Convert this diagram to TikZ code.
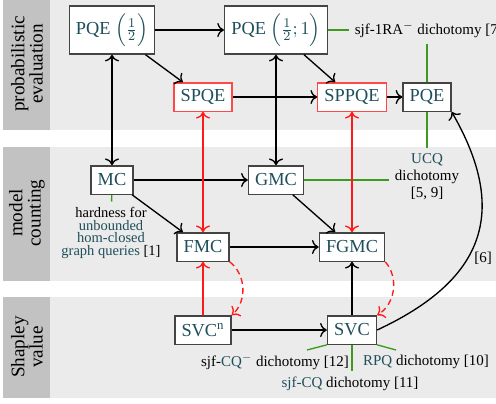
\documentclass[tikz,border=0pt]{standalone}
\usepackage{amsmath}
\usepackage{fontspec}
\setmainfont{Liberation Serif}
\usetikzlibrary{arrows.meta}
\definecolor{bandgray}{HTML}{EBEBEB}
\definecolor{tabgray}{HTML}{C2C2C2}
\definecolor{namecol}{HTML}{1E4F5B}
\definecolor{linkgreen}{HTML}{3D9A1F}
\definecolor{hardred}{HTML}{FF1A1A}
\definecolor{boxgray}{HTML}{444444}
\newcommand{\pname}[1]{\textcolor{namecol}{#1}}
\tikzset{
    every node/.style={align=center,},
    problem/.style={draw=boxgray,line width=0.8pt,fill=white,text=namecol,
        font=\fontsize{11}{13}\selectfont,inner xsep=4pt,minimum height=17pt,},
    tall/.style={minimum height=28.8pt,},
    relaxed/.style={problem,draw=hardred!80,},
    note/.style={font=\fontsize{9}{10.2}\selectfont,inner sep=3.3pt,},
    bandlabel/.style={rotate=90,font=\fontsize{11.5}{11}\selectfont,},
    reduction/.style={line width=0.8pt,-{To[scale=1.2]},},
    hard/.style={reduction,hardred,},
    guess/.style={dash pattern=on 3.6pt off 2.4pt,},
    result/.style={line width=0.8pt,linkgreen,},
}

\begin{document}
\begin{tikzpicture}[x=0.6pt,y=-0.6pt]
        \useasboundingbox (0,0) rectangle (496,403);

        % the three bands
        \fill[bandgray] (3,0) rectangle (496,130);
        \fill[bandgray] (3,147) rectangle (496,281);
        \fill[bandgray] (3,297) rectangle (496,398);
        \fill[tabgray] (3,0) rectangle (50,130);
        \fill[tabgray] (3,147) rectangle (50,281);
        \fill[tabgray] (3,297) rectangle (50,398);
        \node[bandlabel] (probeval) at (27,64) {probabilistic\\evaluation};
        \node[bandlabel] (modelcount) at (27,213) {model\\counting};
        \node[bandlabel] (shapley) at (27,347) {Shapley\\value};

        \node[problem, tall] (pqehalf) at (112,30) {PQE $\Bigl(\frac{1}{2}\Bigr)$};
        \node[problem, tall] (pqehalfone) at (276,30) {PQE $\Bigl(\frac{1}{2};1\Bigr)$};
        \node[relaxed] (spqe) at (203,97) {SPQE};
        \node[relaxed] (sppqe) at (352,97) {SPPQE};
        \node[problem] (pqe) at (427,97) {PQE};

        \node[problem] (mc) at (112,180) {MC};
        \node[problem] (gmc) at (276,180) {GMC};
        \node[problem] (fmc) at (203,247) {FMC};
        \node[problem] (fgmc) at (352,247) {FGMC};

        \node[problem] (svcn) at (203,330) {SVC\textsuperscript{n}};
        \node[problem] (svc) at (352,330) {SVC};

        % known results
        \node[note, anchor=west] (sjfra) at (349,30) {sjf-1RA$^{-}$ dichotomy [7]};
        \node[note] (ucq) at (427,177) {\pname{UCQ}\\dichotomy\\{[5,~9]}};
        \node[note, font=\fontsize{8.7}{7.6}\selectfont] (hardness) at (111,233)
            {hardness for\\\pname{unbounded}\\\pname{hom-closed}\\\pname{graph queries} [1]};
        \node[note] (cqminus) at (275,362) {sjf-\pname{CQ$^{-}$} dichotomy [12]};
        \node[note] (rpq) at (426,362) {\pname{RPQ} dichotomy [10]};
        \node[note] (sjfcq) at (350,384) {\pname{sjf-CQ} dichotomy [11]};
        \node[note] (six) at (483,258) {[6]};

        \coordinate (cqmend) at (307,350);
        \coordinate (rpqend) at (396,350);

        \draw[result] (pqehalfone) to (sjfra);
        \draw[result] (sjfra.south -| pqe) to (pqe);
        \draw[result] (pqe) to (ucq);
        \draw[result] (gmc) to (gmc -| ucq.west);
        \draw[result] (mc) to (hardness);
        \draw[result] (svc.south west) to (cqmend);
        \draw[result] (svc.south) to (svc.south |- sjfcq.north);
        \draw[result] (svc.south east) to (rpqend);

        % reductions
        \draw[reduction] (pqehalf) to (pqehalfone);
        \draw[reduction] (pqehalf) to (spqe);
        \draw[reduction] (pqehalfone) to (sppqe);
        \draw[reduction] (spqe) to (sppqe);
        \draw[reduction] (sppqe) to (pqe);
        \draw[reduction, {To[scale=1.2]}-{To[scale=1.2]}] (mc) to (pqehalf);
        \draw[reduction, {To[scale=1.2]}-{To[scale=1.2]}] (gmc) to (pqehalfone);
        \draw[reduction] (mc) to (gmc);
        \draw[reduction] (mc) to (fmc);
        \draw[reduction] (gmc) to (fgmc);
        \draw[reduction] (fmc) to (fgmc);
        \draw[reduction] (svcn) to (svc);
        \draw[reduction] (svc) to (fgmc);
        \draw[reduction] (svc.east) to [out=25,in=-60,looseness=1.3] (pqe.south east);

        \draw[hard, {To[scale=1.2]}-{To[scale=1.2]}] (spqe) to (fmc);
        \draw[hard, {To[scale=1.2]}-{To[scale=1.2]}] (sppqe) to (fgmc);
        \draw[hard] (svcn) to (fmc);
        \draw[hard, guess] (fmc.south east) to [bend left=50] (svcn.north east);
        \draw[hard, guess] (fgmc.south east) to [bend left=50] (svc.north east);
    \end{tikzpicture}
\end{document}
